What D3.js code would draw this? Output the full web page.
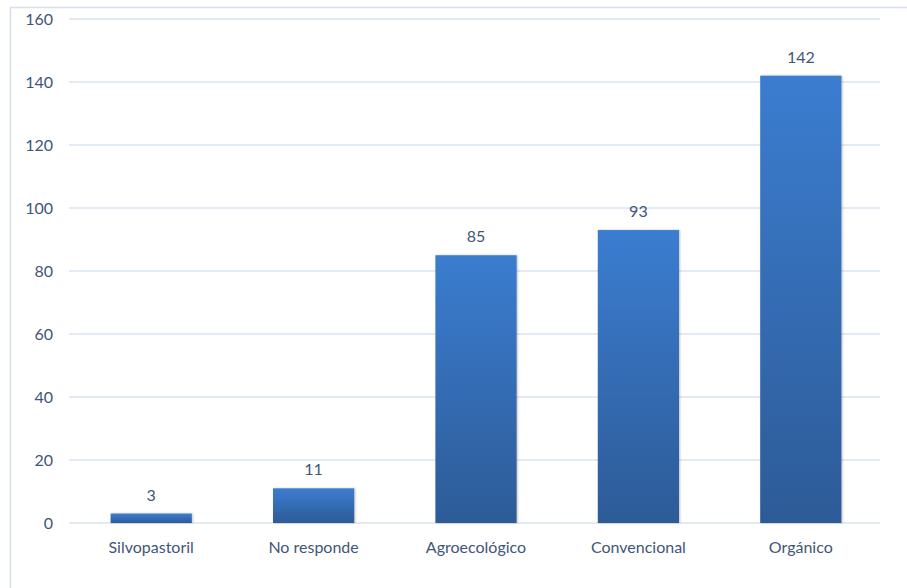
<!DOCTYPE html>
<html>
<head>
    <meta charset="UTF-8">
    <script src="https://d3js.org/d3.v7.min.js"></script>
    <style>
        body { margin: 0; background: #fff; }
        text { font-family: Lato, "Open Sans", sans-serif; fill: #3f5677; }
    </style>
</head>
<body>
    <div id="chart"></div>
    <script>
     const categories = ["Silvopastoril", "No responde", "Agroecológico", "Convencional", "Orgánico"];
     const values = [3, 11, 85, 93, 142];
     const yTicks = [0, 20, 40, 60, 80, 100, 120, 140, 160];

     const width = 907, height = 588;
     const plot = {left: 70, right: 882, top: 19, bottom: 523};

     let svg = d3.select("#chart").append("svg")
                 .attr("width", width)
                 .attr("height", height);

     // chart area border (top + left visible)
     svg.append("path")
        .attr("d", `M10.5,${height} V7.5 H${width}`)
        .attr("fill", "none")
        .attr("stroke", "#d6e0ec")
        .attr("stroke-width", 1.5);

     let grad = svg.append("defs").append("linearGradient")
                   .attr("id", "barGrad")
                   .attr("x1", 0).attr("y1", 0).attr("x2", 0).attr("y2", 1);
     grad.append("stop").attr("offset", "0%").attr("stop-color", "#3b7dd0");
     grad.append("stop").attr("offset", "100%").attr("stop-color", "#2d5b97");

     let x = d3.scaleBand()
               .domain(categories)
               .range([plot.left, plot.right])
               .paddingInner(0.5)
               .paddingOuter(0.25);
     let y = d3.scaleLinear()
               .domain([0, 160])
               .range([plot.bottom, plot.top]);

     // gridlines
     svg.append("g")
        .selectAll("line")
        .data(yTicks)
        .join("line")
        .attr("x1", plot.left - 1)
        .attr("x2", plot.right - 2)
        .attr("y1", d => y(d))
        .attr("y2", d => y(d))
        .attr("stroke", "#d9e3f2")
        .attr("stroke-width", 1.5);

     // y tick labels
     svg.append("g")
        .selectAll("text")
        .data(yTicks)
        .join("text")
        .attr("x", 53)
        .attr("y", d => y(d))
        .attr("dy", "0.35em")
        .attr("text-anchor", "end")
        .style("font-size", "16px")
        .text(d => d);

     // bars
     svg.append("g")
        .selectAll("rect")
        .data(values)
        .join("rect")
        .attr("x", (d, i) => x(categories[i]))
        .attr("y", d => y(d))
        .attr("width", x.bandwidth())
        .attr("height", d => y(0) - y(d))
        .attr("fill", "url(#barGrad)")
        .style("filter", "drop-shadow(1px 0px 1px rgba(0,0,0,0.25))");

     // value labels
     svg.append("g")
        .selectAll("text")
        .data(values)
        .join("text")
        .attr("x", (d, i) => x(categories[i]) + x.bandwidth() / 2)
        .attr("y", d => y(d) - 13)
        .attr("text-anchor", "middle")
        .style("font-size", "16px")
        .text(d => d);

     // category labels
     svg.append("g")
        .selectAll("text")
        .data(categories)
        .join("text")
        .attr("x", d => x(d) + x.bandwidth() / 2)
        .attr("y", plot.bottom + 30)
        .attr("text-anchor", "middle")
        .style("font-size", "16px")
        .text(d => d);
    </script>
</body>
</html>
